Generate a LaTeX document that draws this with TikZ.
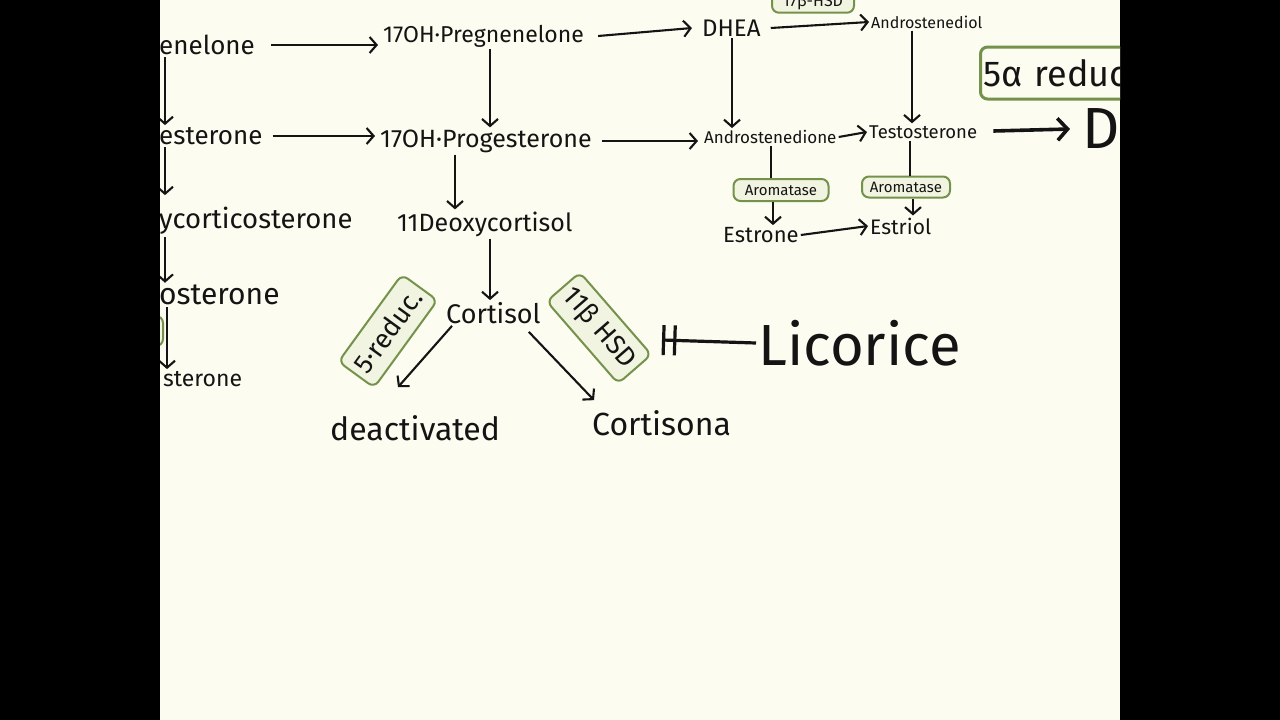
\documentclass[tikz,border=0pt]{standalone}
\usepackage{fontspec}
\setmainfont{Fira Sans}
\usetikzlibrary{arrows.meta,positioning}
\definecolor{hwPaper} {RGB}{252,252,241}
\definecolor{hwFrame} {RGB}{  0,  0,  0}
\definecolor{hwGreen} {RGB}{116,146, 74}
\definecolor{hwGreenL}{RGB}{240,244,224}
\definecolor{hwInk}   {RGB}{ 20, 20, 20}
\newcommand{\hand}[1]{\fontsize{#1}{#1}\selectfont}

\begin{document}
\begin{tikzpicture}[x=1pt,y=-1pt,
    every node/.style={inner sep=2pt,text=hwInk,anchor=west},
    chem/.style={font=\hand{23}},
    chemS/.style={font=\hand{17}},
    chemL/.style={font=\hand{32}},
    cut/.style={font=\hand{26}},
    arr/.style={-{Straight Barb[length=7pt,width=16pt]},line width=2.1pt,hwInk},
    arrT/.style={-{Straight Barb[length=10pt,width=22pt]},line width=3.6pt,hwInk},
    link/.style={line width=2.1pt,hwInk},
    enz/.style={draw=hwGreen,line width=2pt,rounded corners=7pt,
                fill=hwGreenL,anchor=center,inner sep=3pt},
    inh/.style={line width=3.2pt,hwInk,-{Bar[width=30pt,sep=8pt]Bar[width=30pt]}}
  ]
  \useasboundingbox (0,0) rectangle (1280,720);
  \fill[hwFrame] (0,0) rectangle (1280,720);
  \fill[hwPaper] (160,0) rectangle (1120,720);
  \begin{scope}
  \clip (160,0) rectangle (1120,720);
  % Main chain
  \node[cut] (preg) at (157,45) {enelone};
  \node[chem] (ohpreg) at (381,36) {17OH·Pregnenelone};
  \node[chem,font=\hand{24}] (dhea) at (700,28) {DHEA};
  \node[chemS,font=\hand{16}] (adiol) at (869,22) {Androstenediol};
  \node[cut] (prog) at (157,136) {esterone};
  \node[chem,font=\hand{25}] (ohprog) at (378,141) {17OH·Progesterone};
  \node[chemS] (adione) at (702,137) {Androstenedione};
  \node[chemS,font=\hand{18.5}] (testo) at (867,132) {Testosterone};
  \node[font=\hand{58}] (dht) at (1080,129) {D};
  % Left column
  \node[cut,font=\hand{27.5}] (docs) at (157,221) {ycorticosterone};
  \node[cut,font=\hand{30}] (cortico) at (157,295) {osterone};
  \node[cut,font=\hand{23}] (aldo) at (161,379) {sterone};
  % Cortisol branch
  \node[chem,font=\hand{25}] (deoxy) at (395,224) {11Deoxycortisol};
  \node[chem,font=\hand{27}] (cortisol) at (444,313) {Cortisol};
  \node[chemL] (deact) at (328,428) {deactivated};
  \node[chemL] (cortisona) at (590,423) {Cortisona};
  \node[font=\hand{58}] (licorice) at (756,343) {Licorice};
  % Estrogens
  \node[chem,font=\hand{22}] (estrone) at (721,235) {Estrone};
  \node[chem,font=\hand{21}] (estriol) at (868,226) {Estriol};
  % Enzyme chips
  \node[enz,font=\hand{15},minimum width=95pt,minimum height=22pt] (arom1) at (781,190) {Aromatase};
  \node[enz,font=\hand{15},minimum width=88pt,minimum height=21pt] (arom2) at (906,187) {Aromatase};
  \node[enz,font=\hand{16},minimum width=82pt] (hsd17) at (813,2) {17β-HSD};
  \node[enz,font=\hand{36},line width=3pt,fill=hwPaper,anchor=west,text width=160pt,
        align=left,minimum height=52pt] (reduc5a) at (979,73) {\mbox{5α reduc}};
  \node[enz,font=\hand{27},rotate=54,minimum height=44pt,inner xsep=6pt] (reduc5) at (388,331) {5·reduc.};
  \node[enz,font=\hand{27},rotate=-49,minimum height=44pt,inner xsep=6pt] (hsd11) at (599,328) {11β HSD};
  \node[enz,minimum width=30pt,minimum height=30pt] (edgechip) at (148,331) {};
  % Horizontal steps
  \draw[arr] ([xshift=14pt]preg.east) -- ([xshift=-3pt]ohpreg.west |- preg.east);
  \draw[arr] ([xshift=12pt]ohpreg.east) -- ([xshift=-8pt]dhea.west);
  \draw[arr] ([xshift=8pt]dhea.east) -- (adiol.west);
  \draw[arr] ([xshift=8pt]prog.east) -- ([xshift=-3pt]ohprog.west |- prog.east);
  \draw[arr] ([xshift=8pt]ohprog.east) -- ([xshift=-4pt]adione.west |- ohprog.east);
  \draw[arr] (adione.east) -- (testo.west);
  \draw[arrT] ([xshift=14pt,yshift=1pt]testo.east) -- ([xshift=-10pt]dht.west);
  \draw[arr] (estrone.east) -- (estriol.west);
  % Vertical steps
  \draw[arr] ([xshift=8pt]preg.south west) -- ([xshift=8pt]prog.north west);
  \draw[arr] ([xshift=8pt]prog.south west) -- ([xshift=8pt,yshift=10pt]docs.north west);
  \draw[arr] ([xshift=8pt]docs.south west) -- ([xshift=8pt]cortico.north west);
  \draw[arr] ([xshift=10pt]cortico.south west) -- ([xshift=6pt]aldo.north west);
  \draw[arr] ([xshift=109pt]ohpreg.south west) -- ([xshift=109pt]ohpreg.south west |- ohprog.north);
  \draw[arr] ([xshift=77pt]ohprog.south west) -- ([xshift=77pt]ohprog.south west |- deoxy.north);
  \draw[arr] ([xshift=95pt]deoxy.south west) -- ([xshift=95pt]deoxy.south west |- cortisol.north);
  \draw[arr] ([xshift=32pt]dhea.south west) -- ([xshift=32pt]dhea.south west |- adione.north);
  \draw[arr] ([xshift=43pt]adiol.south west) -- ([xshift=43pt]adiol.south west |- testo.north);
  \draw[link] ([xshift=69pt]adione.south west) -- ([xshift=69pt]adione.south west |- arom1.north);
  \draw[arr] ([xshift=-8pt]arom1.south) -- ([xshift=-8pt]arom1.south |- estrone.north);
  \draw[link] ([xshift=43pt]testo.south west) -- ([xshift=43pt]testo.south west |- arom2.north);
  \draw[arr] ([xshift=7pt]arom2.south) -- ([xshift=7pt]arom2.south |- estriol.north);
  % Cortisol fate
  \draw[arr] ([xshift=8pt]cortisol.south west) -- ([xshift=70pt,yshift=26pt]deact.north west);
  \draw[arr] ([xshift=-14pt,yshift=-6pt]cortisol.south east) -- ([xshift=4pt,yshift=8pt]cortisona.north west);
  % Block
  \coordinate (block) at (662,340);
  \draw[inh] (licorice.west) -- (block);
  \end{scope}
\end{tikzpicture}
\end{document}
